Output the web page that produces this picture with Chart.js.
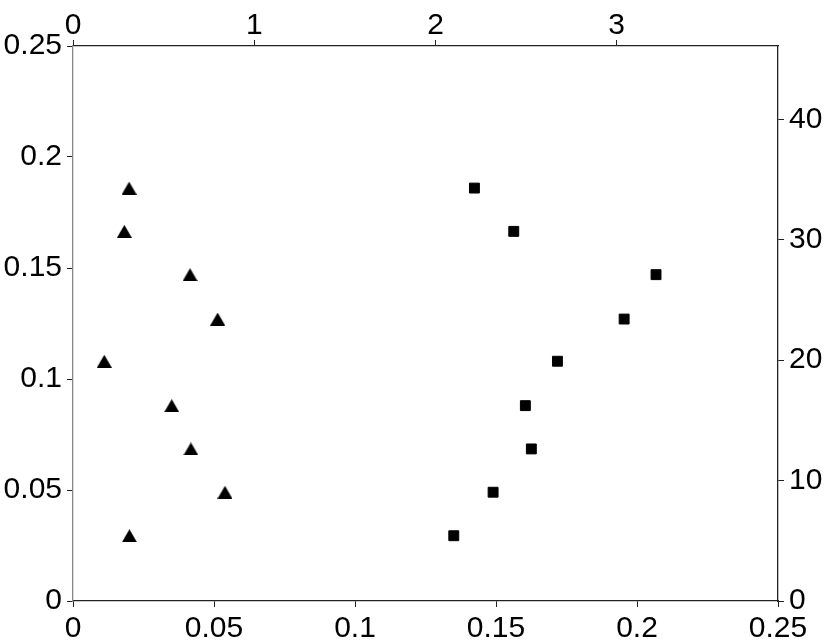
<!DOCTYPE html>
<html>
<head>
<meta charset="utf-8">
<script src="https://cdn.jsdelivr.net/npm/chart.js@4"></script>
<style>
  body { margin: 0; background: #fff; }
</style>
</head>
<body>
<canvas id="myChart" width="830" height="643"></canvas>
<script>
// shared y values (left axis)
const yValues = [0.0294, 0.049, 0.0685, 0.088, 0.108, 0.127, 0.147, 0.1665, 0.186];
// triangles: bottom x axis
const triangleX = [0.020, 0.0539, 0.0418, 0.035, 0.0111, 0.0513, 0.0415, 0.0182, 0.0199];
// squares: top x axis
const squareX = [2.101, 2.318, 2.529, 2.496, 2.673, 3.041, 3.217, 2.432, 2.215];

const bottomTicks = [0, 0.05, 0.1, 0.15, 0.2, 0.25];
const topTicks = [0, 1, 2, 3];
const rightTicks = [0, 10, 20, 30, 40];

// triangle drawn centred on its bounding box
function triangleMarker(w, h) {
  const c = document.createElement("canvas");
  c.width = w;
  c.height = h;
  const ctx = c.getContext("2d");
  ctx.fillStyle = "#000";
  ctx.beginPath();
  ctx.moveTo(w / 2, 0);
  ctx.lineTo(w, h);
  ctx.lineTo(0, h);
  ctx.closePath();
  ctx.fill();
  return c;
}

const font = { family: "'Liberation Sans', Arial, sans-serif", size: 30 };

function axis(position, min, max, ticks, size, borderColor, padding) {
  return {
    type: "linear",
    position: position,
    min: min,
    max: max,
    afterBuildTicks: (scale) => {
      scale.ticks = ticks.map((v) => ({ value: v }));
    },
    afterFit: (scale) => {
      if (position === "left" || position === "right") scale.width = size;
      else scale.height = size;
    },
    grid: {
      drawOnChartArea: false,
      drawTicks: true,
      tickLength: 6,
      color: "#222",
    },
    border: { display: true, color: borderColor, width: 1.3 },
    ticks: {
      autoSkip: false,
      maxRotation: 0,
      padding: padding,
      color: "#000",
      font: font,
      callback: (v) => String(+v.toFixed(2)),
    },
  };
}

const data = {
  datasets: [
    {
      label: "triangles",
      data: yValues.map((y, i) => ({ x: triangleX[i], y: y })),
      xAxisID: "x",
      yAxisID: "y",
      pointStyle: triangleMarker(15, 13),
      pointRadius: 8,
      showLine: false,
    },
    {
      label: "squares",
      data: yValues.map((y, i) => ({ x: squareX[i], y: y })),
      xAxisID: "x2",
      yAxisID: "y",
      pointStyle: "rect",
      pointRadius: 7,
      pointBorderWidth: 1,
      backgroundColor: "#000",
      borderColor: "#000",
      showLine: false,
    },
  ],
};

const config = {
  type: "scatter",
  data,
  options: {
    responsive: false,
    animation: false,
    layout: { padding: 0 },
    plugins: {
      legend: { display: false },
      tooltip: { enabled: false },
    },
    scales: {
      x: axis("bottom", 0, 0.25, bottomTicks, 42, "#222", 4),
      x2: axis("top", 0, 3.89, topTicks, 46, "#222", -4),
      y: axis("left", 0, 0.25, bottomTicks, 73, "#888", 5),
      y2: axis("right", 0, 46.1, rightTicks, 52, "#222", 5),
    },
  },
};

const myChart = new Chart(document.getElementById("myChart"), config);
</script>
</body>
</html>
